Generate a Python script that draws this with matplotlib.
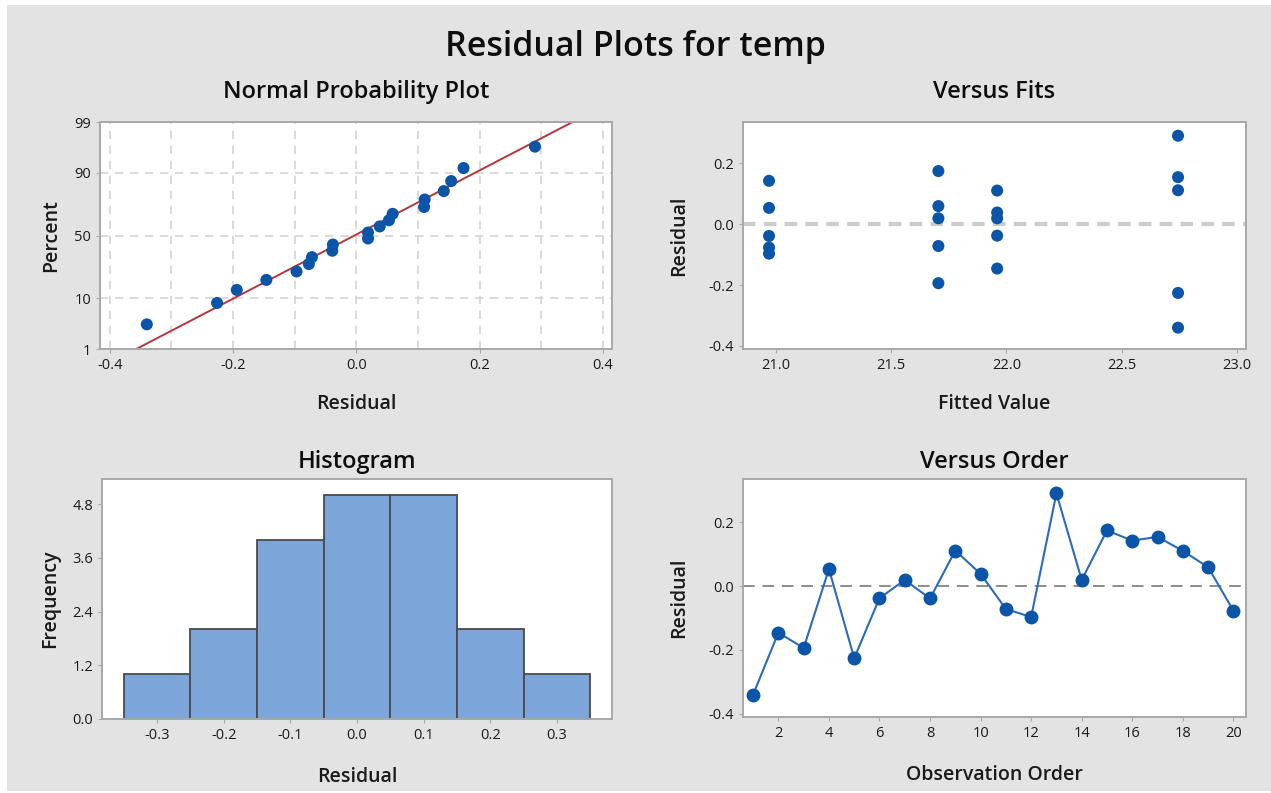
from statistics import NormalDist

import numpy as np
import matplotlib
matplotlib.use('Agg')
import matplotlib.pyplot as plt
from matplotlib.patches import Rectangle

# Data
order = list(range(1, 21))
residuals = [-0.340, -0.146, -0.194, 0.053, -0.226, -0.038, 0.019, -0.039, 0.111, 0.038,
             -0.072, -0.097, 0.290, 0.019, 0.174, 0.142, 0.154, 0.110, 0.059, -0.077]
fitted = [22.745, 21.96, 21.705, 20.97, 22.745, 21.96, 21.705, 20.97, 22.745, 21.96,
          21.705, 20.97, 22.745, 21.96, 21.705, 20.97, 22.745, 21.96, 21.705, 20.97]
hist_centers = [-0.3, -0.2, -0.1, 0.0, 0.1, 0.2, 0.3]
hist_counts = [1, 2, 4, 5, 5, 2, 1]
percent_ticks = [1, 10, 50, 90, 99]

W, H = 1271, 793
BG = '#e3e3e3'
BLUE = '#0a55a8'
FONT = 'Open Sans'
WEIGHT = 'semibold'

plt.rcParams['font.family'] = [FONT, 'DejaVu Sans']
plt.rcParams['axes.edgecolor'] = '#a8a8a8'
plt.rcParams['axes.linewidth'] = 1.4
plt.rcParams['xtick.color'] = '#a8a8a8'
plt.rcParams['ytick.color'] = '#a8a8a8'
plt.rcParams['xtick.labelcolor'] = '#1a1a1a'
plt.rcParams['ytick.labelcolor'] = '#1a1a1a'
plt.rcParams['xtick.labelsize'] = 10.5
plt.rcParams['ytick.labelsize'] = 10.5
plt.rcParams['xtick.major.size'] = 3
plt.rcParams['ytick.major.size'] = 3


def px_axes(fig, left, top, right, bottom):
    return fig.add_axes([left / W, 1 - bottom / H, (right - left) / W, (bottom - top) / H])


def style(ax, title, xlabel, ylabel, tpad, ypad, xpad=15):
    ax.set_title(title, fontsize=17, color='#0d0d0d', pad=tpad, fontweight=WEIGHT)
    ax.set_xlabel(xlabel, fontsize=14, color='#1a1a1a', labelpad=xpad, fontweight=WEIGHT)
    ax.set_ylabel(ylabel, fontsize=14, color='#1a1a1a', labelpad=ypad, fontweight=WEIGHT)


fig = plt.figure(figsize=(W / 100, H / 100), dpi=100)
fig.patch.set_facecolor('white')
fig.patches.append(Rectangle((7 / W, 2 / H), 1 - 7 / W, 1 - 7 / H, transform=fig.transFigure,
                             facecolor=BG, edgecolor='none', zorder=-10))
fig.text(0.5, 1 - 47 / H, 'Residual Plots for temp', ha='center', va='center',
         fontsize=24.5, color='#0d0d0d', fontweight=WEIGHT)

# Normal probability plot
nd = NormalDist()
res = np.array(residuals)
n = len(res)
sorted_res = np.sort(res)
ranks = (np.arange(1, n + 1) - 0.3) / (n + 0.4)
z_pts = [nd.inv_cdf(p) for p in ranks]
mu, sd = res.mean(), res.std(ddof=1)
z_lo, z_hi = nd.inv_cdf(0.01), nd.inv_cdf(0.99)

ax1 = px_axes(fig, 100, 122, 612, 349)
for xv in np.arange(-0.4, 0.41, 0.1):
    ax1.axvline(xv, color='#d4d4d4', ls=(0, (5, 4)), lw=1.2, zorder=0)
for p in percent_ticks[1:-1]:
    ax1.axhline(nd.inv_cdf(p / 100), color='#d4d4d4', ls=(0, (5, 4)), lw=1.2, zorder=0)
line_z = np.array([z_lo - 0.2, z_hi + 0.2])
ax1.plot(mu + sd * line_z, line_z, color='#b5363c', lw=1.4, zorder=2)
ax1.scatter(sorted_res, z_pts, s=75, color=BLUE, zorder=3, edgecolors='none')
ax1.set_xlim(-0.416, 0.415)
ax1.set_ylim(z_lo, z_hi)
ax1.set_xticks([-0.4, -0.2, 0.0, 0.2, 0.4])
ax1.set_xticklabels(['-0.4', '-0.2', '0.0', '0.2', '0.4'])
ax1.set_yticks([nd.inv_cdf(p / 100) for p in percent_ticks])
ax1.set_yticklabels([str(p) for p in percent_ticks])
style(ax1, 'Normal Probability Plot', 'Residual', 'Percent', tpad=17, ypad=9)

# Versus fits
ax2 = px_axes(fig, 743, 122, 1246, 349)
ax2.axhline(0, color='#cccccc', ls=(0, (3, 2)), lw=3, zorder=0)
ax2.scatter(fitted, residuals, s=75, color=BLUE, zorder=3, edgecolors='none')
ax2.set_xlim(20.857, 23.04)
ax2.set_ylim(-0.41, 0.335)
ax2.set_xticks([21.0, 21.5, 22.0, 22.5, 23.0])
ax2.set_xticklabels(['21.0', '21.5', '22.0', '22.5', '23.0'])
ax2.set_yticks([-0.4, -0.2, 0.0, 0.2])
ax2.set_yticklabels(['-0.4', '-0.2', '0.0', '0.2'])
style(ax2, 'Versus Fits', 'Fitted Value', 'Residual', tpad=17, ypad=14)

# Histogram
ax3 = px_axes(fig, 102, 479, 612, 719)
ax3.bar(hist_centers, hist_counts, width=0.1, color='#7ca6d9', edgecolor='#4a4a4a', lw=1.3)
ax3.set_xlim(-0.3825, 0.3825)
ax3.set_ylim(0, 5.36)
ax3.set_xticks(hist_centers)
ax3.set_xticklabels(['-0.3', '-0.2', '-0.1', '0.0', '0.1', '0.2', '0.3'])
ax3.set_yticks([0, 1.2, 2.4, 3.6, 4.8])
ax3.set_yticklabels(['0.0', '1.2', '2.4', '3.6', '4.8'])
style(ax3, 'Histogram', 'Residual', 'Frequency', tpad=8, ypad=9, xpad=17)

# Versus order
ax4 = px_axes(fig, 743, 479, 1246, 717)
ax4.axhline(0, color='#8c8c8c', ls=(0, (6, 4)), lw=1.4, zorder=0)
ax4.plot(order, residuals, color='#2a6bbf', lw=1.5, marker='o', ms=9,
         mfc=BLUE, mec=BLUE, zorder=3)
ax4.set_xlim(0.6, 20.5)
ax4.set_ylim(-0.41, 0.335)
ax4.set_xticks(range(2, 21, 2))
ax4.set_yticks([-0.4, -0.2, 0.0, 0.2])
ax4.set_yticklabels(['-0.4', '-0.2', '0.0', '0.2'])
style(ax4, 'Versus Order', 'Observation Order', 'Residual', tpad=8, ypad=14, xpad=17)

fig.savefig('out.png', dpi=100)
